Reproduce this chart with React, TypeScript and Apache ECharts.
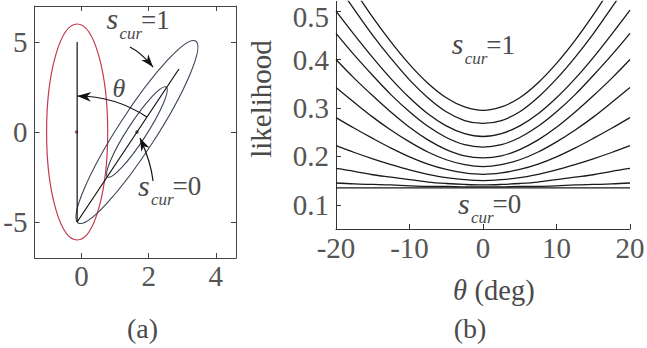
import React, { useEffect, useRef } from "react";
import * as echarts from "echarts";

// ---------- panel (a) data ----------
const xTicksA = [0, 2, 4];
const yTicksA = [-5, 0, 5];
const verticalAxisLine = [[-0.13, -5], [-0.13, 5]];
const rotatedAxisLine = [[-0.13, -5], [2.9, 3.5]];
const redDot = [[-0.15, 0]];
const centerDot = [[1.65, 0]];
const redEllipseCenter = [-0.13, 0];
const redEllipseRadii = [0.91, 6];
const tiltedCenter = [1.65, 0];
const outerTip = [3.4, 5.05];
const innerTip = [2.52, 2.5];
const minorRatio = 0.175;
const thetaArcPivot = [-0.13, -5];
const thetaArcEnd = [-0.13, 2];
const arrowS1 = [[1.44, 4.72], [1.77, 4.42], [2.13, 3.61]];
const arrowS0 = [[2.13, -2.72], [2.07, -1.67], [1.74, -0.33]];

// ---------- panel (b) data ----------
const xTicksB = [-20, -10, 0, 10, 20];
const yTicksB = [0.1, 0.2, 0.3, 0.4, 0.5];
const thetaDeg = [-20, -17.5, -15, -12.5, -10, -7.5, -5, -2.5, 0, 2.5, 5, 7.5, 10, 12.5, 15, 17.5, 20];
const curve0 = [0.601, 0.543, 0.487, 0.436, 0.390, 0.351, 0.321, 0.302, 0.295, 0.302, 0.321, 0.352, 0.392, 0.439, 0.492, 0.550, 0.608];
const curve1 = [0.558, 0.503, 0.450, 0.402, 0.358, 0.321, 0.292, 0.274, 0.268, 0.274, 0.292, 0.322, 0.360, 0.404, 0.453, 0.507, 0.563];
const curve2 = [0.500, 0.451, 0.404, 0.360, 0.321, 0.288, 0.263, 0.247, 0.241, 0.247, 0.263, 0.288, 0.321, 0.360, 0.404, 0.452, 0.502];
const curve3 = [0.454, 0.409, 0.367, 0.327, 0.292, 0.262, 0.239, 0.224, 0.219, 0.224, 0.239, 0.262, 0.292, 0.327, 0.367, 0.409, 0.454];
const curve4 = [0.400, 0.361, 0.325, 0.291, 0.260, 0.234, 0.214, 0.201, 0.197, 0.201, 0.214, 0.234, 0.260, 0.291, 0.325, 0.361, 0.400];
const curve5 = [0.342, 0.311, 0.281, 0.254, 0.230, 0.209, 0.193, 0.183, 0.179, 0.183, 0.193, 0.209, 0.230, 0.254, 0.281, 0.311, 0.342];
const curve6 = [0.280, 0.258, 0.237, 0.217, 0.199, 0.184, 0.173, 0.166, 0.163, 0.166, 0.173, 0.184, 0.199, 0.217, 0.237, 0.258, 0.280];
const curve7 = [0.222, 0.208, 0.195, 0.183, 0.172, 0.163, 0.156, 0.152, 0.150, 0.152, 0.156, 0.163, 0.172, 0.183, 0.195, 0.208, 0.222];
const curve8 = [0.175, 0.169, 0.162, 0.157, 0.152, 0.147, 0.144, 0.142, 0.141, 0.142, 0.144, 0.147, 0.152, 0.157, 0.162, 0.169, 0.175];
const curve9 = [0.145, 0.143, 0.142, 0.141, 0.139, 0.138, 0.138, 0.137, 0.137, 0.137, 0.138, 0.138, 0.139, 0.141, 0.142, 0.143, 0.145];
const curve10 = [0.135, 0.135, 0.135, 0.135, 0.135, 0.135, 0.135, 0.135, 0.135, 0.135, 0.135, 0.135, 0.135, 0.135, 0.135, 0.135, 0.135];
const likelihoodCurves = [curve0, curve1, curve2, curve3, curve4, curve5, curve6, curve7, curve8, curve9, curve10];

const FONT = "'Liberation Serif', 'Times New Roman', serif";
const TXT = "#4a4a4a";
const AXIS_A = "#444";
const AXIS_B = "#333";

function textAt(text: string, x: number, base: number, size: number, italic = false, align = "left") {
  return {
    type: "text",
    x,
    y: base - 0.32 * size,
    style: {
      text,
      fontFamily: FONT,
      fontSize: size,
      fontStyle: italic ? "italic" : "normal",
      fill: TXT,
      align,
      verticalAlign: "middle",
    },
  };
}

function scur(x: number, base: number, rest: string) {
  return {
    type: "group",
    children: [
      textAt("s", x, base, 30, true),
      textAt("cur", x + 13, base + 10, 17, true),
      textAt(rest, x + 34.5, base, 27, false),
    ],
  };
}

function arrowHead(tip: number[], from: number[], L = 13, W = 4.5, color = "#111") {
  const dx = tip[0] - from[0];
  const dy = tip[1] - from[1];
  const len = Math.hypot(dx, dy) || 1;
  const ux = dx / len, uy = dy / len;
  const nx = -uy, ny = ux;
  return {
    type: "polygon",
    shape: {
      points: [
        [tip[0], tip[1]],
        [tip[0] - L * ux + W * nx, tip[1] - L * uy + W * ny],
        [tip[0] - 0.7 * L * ux, tip[1] - 0.7 * L * uy],
        [tip[0] - L * ux - W * nx, tip[1] - L * uy - W * ny],
      ],
    },
    style: { fill: color, stroke: "none" },
  };
}

function curvedArrow(api: any, pts: number[][]) {
  const p0 = api.coord(pts[0]);
  const cp = api.coord(pts[1]);
  const p1 = api.coord(pts[2]);
  return [
    {
      type: "bezierCurve",
      shape: { x1: p0[0], y1: p0[1], cpx1: cp[0], cpy1: cp[1], x2: p1[0], y2: p1[1] },
      style: { stroke: "#111", lineWidth: 1.2, fill: "none" },
    },
    arrowHead(p1, cp),
  ];
}

function renderPanelA(_params: any, api: any) {
  const children: any[] = [];
  const rc = api.coord(redEllipseCenter);
  const rxp = Math.abs(api.coord([redEllipseCenter[0] + redEllipseRadii[0], redEllipseCenter[1]])[0] - rc[0]);
  const ryp = Math.abs(api.coord([redEllipseCenter[0], redEllipseCenter[1] + redEllipseRadii[1]])[1] - rc[1]);
  children.push({
    type: "ellipse",
    shape: { cx: rc[0], cy: rc[1], rx: rxp, ry: ryp },
    style: { fill: "none", stroke: "#c4394f", lineWidth: 1.2 },
  });
  const cc = api.coord(tiltedCenter);
  [outerTip, innerTip].forEach((tip) => {
    const tp = api.coord(tip);
    const dx = tp[0] - cc[0];
    const dy = tp[1] - cc[1];
    const a = Math.hypot(dx, dy);
    children.push({
      type: "ellipse",
      x: cc[0],
      y: cc[1],
      rotation: Math.atan2(-dy, dx),
      shape: { cx: 0, cy: 0, rx: a, ry: a * minorRatio },
      style: { fill: "none", stroke: "#3b4558", lineWidth: 1.1 },
    });
  });
  const pv = api.coord(thetaArcPivot);
  const pe = api.coord(thetaArcEnd);
  const rl = api.coord(rotatedAxisLine[1]);
  const r = Math.hypot(pe[0] - pv[0], pe[1] - pv[1]);
  const endAng = Math.atan2(rl[1] - pv[1], rl[0] - pv[0]);
  children.push({
    type: "arc",
    shape: { cx: pv[0], cy: pv[1], r, startAngle: -Math.PI / 2, endAngle: endAng, clockwise: true },
    style: { stroke: "#111", lineWidth: 1.2, fill: "none" },
  });
  children.push(arrowHead(pe, [pe[0] + 10, pe[1] + 0.6], 14, 4.8));
  children.push(...curvedArrow(api, arrowS1));
  children.push(...curvedArrow(api, arrowS0));
  return { type: "group", children };
}

export default function App() {
  const ref = useRef<HTMLDivElement>(null);
  useEffect(() => {
    if (!ref.current) return;
    const chart = echarts.init(ref.current, null, { renderer: "svg" });
    const tickLabel = { fontFamily: FONT, fontSize: 29, lineHeight: 22, color: "#555" };
    const curveSeries = likelihoodCurves.map((c, i) => ({
      name: "curve" + i,
      type: "line",
      xAxisIndex: 2,
      yAxisIndex: 2,
      data: thetaDeg.map((t, j) => [t, c[j]]),
      showSymbol: false,
      smooth: 0.35,
      clip: true,
      lineStyle: { color: "#1a1a1a", width: 1.3 },
    }));
    const topYLabel = yTicksB[yTicksB.length - 1];
    chart.setOption({
      animation: false,
      backgroundColor: "#ffffff",
      textStyle: { fontFamily: FONT },
      grid: [
        { left: 34.5, top: 6, width: 201.5, height: 252, containLabel: false, outerBoundsMode: "none" },
        { left: 336, top: 1.4, width: 294, height: 227.6, containLabel: false, outerBoundsMode: "none" },
      ],
      xAxis: [
        {
          gridIndex: 0, type: "value", min: -1.4, max: 4.6, position: "bottom",
          axisLine: { onZero: false, lineStyle: { color: AXIS_A, width: 1 } },
          axisTick: { inside: true, length: 5, customValues: xTicksA, lineStyle: { color: AXIS_A } },
          axisLabel: { ...tickLabel, margin: 7, customValues: xTicksA, formatter: (v: number) => String(v) },
          splitLine: { show: false },
        },
        {
          gridIndex: 0, type: "value", min: -1.4, max: 4.6, position: "top",
          axisLine: { onZero: false, lineStyle: { color: AXIS_A, width: 1 } },
          axisTick: { inside: true, length: 5, customValues: xTicksA, lineStyle: { color: AXIS_A } },
          axisLabel: { show: false },
          splitLine: { show: false },
        },
        {
          gridIndex: 1, type: "value", min: -20, max: 20, interval: 10, position: "bottom",
          axisLine: { onZero: false, lineStyle: { color: AXIS_B, width: 1 } },
          axisTick: { inside: true, length: 5, customValues: xTicksB, lineStyle: { color: AXIS_B } },
          axisLabel: { ...tickLabel, margin: 8, customValues: xTicksB, formatter: (v: number) => String(v) },
          splitLine: { show: false },
        },
      ],
      yAxis: [
        {
          gridIndex: 0, type: "value", min: -7, max: 7, position: "left",
          axisLine: { onZero: false, lineStyle: { color: AXIS_A, width: 1 } },
          axisTick: { inside: true, length: 5, customValues: yTicksA, lineStyle: { color: AXIS_A } },
          axisLabel: { ...tickLabel, margin: 7, customValues: yTicksA, formatter: (v: number) => String(v) },
          splitLine: { show: false },
        },
        {
          gridIndex: 0, type: "value", min: -7, max: 7, position: "right",
          axisLine: { onZero: false, lineStyle: { color: AXIS_A, width: 1 } },
          axisTick: { inside: true, length: 5, customValues: yTicksA, lineStyle: { color: AXIS_A } },
          axisLabel: { show: false },
          splitLine: { show: false },
        },
        {
          gridIndex: 1, type: "value", min: 0.05, max: 0.52, position: "left",
          axisLine: { onZero: false, lineStyle: { color: AXIS_B, width: 1 } },
          axisTick: { inside: true, length: 5, customValues: yTicksB, lineStyle: { color: AXIS_B } },
          axisLabel: {
            ...tickLabel,
            margin: 7,
            customValues: yTicksB,
            formatter: (v: number) =>
              Math.abs(v - topYLabel) < 1e-9 ? "{top|" + v.toFixed(1) + "}" : v.toFixed(1),
            rich: {
              top: {
                fontFamily: FONT, fontSize: 29, lineHeight: 22, color: "#555",
                padding: [11, 0, 0, 0],
              },
            },
          },
          splitLine: { show: false },
        },
      ],
      series: [
        {
          name: "panelA",
          type: "custom",
          xAxisIndex: 0,
          yAxisIndex: 0,
          data: [[0, 0]],
          renderItem: renderPanelA,
          silent: true,
          z: 3,
        },
        {
          name: "vertical axis",
          type: "line", xAxisIndex: 0, yAxisIndex: 0,
          data: verticalAxisLine, showSymbol: false,
          lineStyle: { color: "#111", width: 1.2 },
        },
        {
          name: "rotated axis",
          type: "line", xAxisIndex: 0, yAxisIndex: 0,
          data: rotatedAxisLine, showSymbol: false,
          lineStyle: { color: "#111", width: 1.2 },
        },
        {
          name: "red dot", type: "scatter", xAxisIndex: 0, yAxisIndex: 0,
          data: redDot, symbolSize: 3.5, itemStyle: { color: "#b8323f" },
        },
        {
          name: "center dot", type: "scatter", xAxisIndex: 0, yAxisIndex: 0,
          data: centerDot, symbolSize: 3.5, itemStyle: { color: "#333" },
        },
        ...curveSeries,
      ],
      graphic: [
        scur(106.5, 28.5, "=1"),
        scur(138, 195, "=0"),
        scur(451.7, 53.5, "=1"),
        scur(458, 213, "=0"),
        textAt("θ", 119, 96.5, 26, true, "center"),
        {
          type: "text",
          x: 261,
          y: 99,
          rotation: Math.PI / 2,
          style: {
            text: "likelihood", fontFamily: FONT, fontSize: 29, fill: TXT,
            align: "center", verticalAlign: "middle",
          },
        },
        textAt("θ", 453, 299.5, 28.5, true),
        textAt("(deg)", 474.5, 299.5, 28.5, false),
        textAt("(a)", 142.5, 337, 28, false, "center"),
        textAt("(b)", 470, 337, 28, false, "center"),
      ],
    });
    return () => chart.dispose();
  }, []);
  return (
    <div
      ref={ref}
      style={{ position: "absolute", left: 0, top: 0, width: 647, height: 348, background: "#fff" }}
    />
  );
}
